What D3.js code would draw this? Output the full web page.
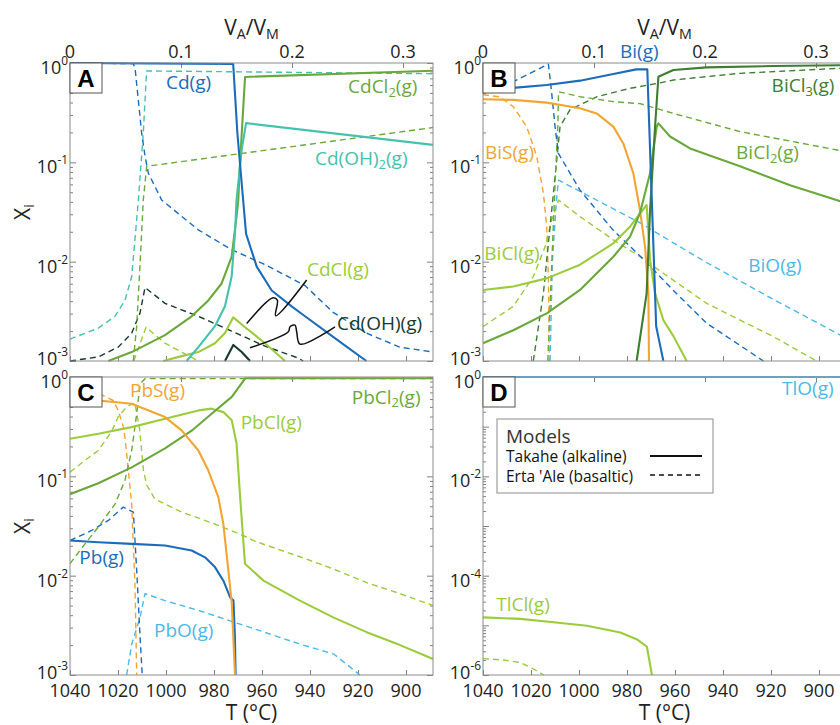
<!DOCTYPE html>
<html>
<head>
<meta charset="utf-8">
<script src="https://cdn.jsdelivr.net/npm/d3@7"></script>
<style>
  body { margin: 0; background: #fff; }
  svg { display: block; font-family: 'Open Sans', 'Noto Sans', sans-serif; }
</style>
</head>
<body>
<svg id="chart" width="840" height="725"></svg>
<script>
// ---- data: [x, mole fraction] ; x = V_A/V_M for A,B and T (°C) for C,D ----

// Panel A - Cd
const cdG_tak = [[0,1],[0.147,0.977],[0.1508,0.195],[0.1586,0.0191],[0.1682,0.00891],[0.1817,0.00513],[0.1997,0.00355],[0.2117,0.00282],[0.246,0.00148],[0.267,0.001]]
const cdG_ert = [[0,1],[0.057,0.985],[0.0586,0.89],[0.0646,0.195],[0.0676,0.115],[0.0706,0.0776],[0.0826,0.0417],[0.1156,0.0209],[0.1456,0.0132],[0.1757,0.00933],[0.2117,0.00575],[0.237,0.00309],[0.267,0.00191],[0.297,0.00138],[0.327,0.00123]]
const cdCl2_tak = [[0.0345,0.001],[0.0556,0.00123],[0.0856,0.00182],[0.1096,0.00282],[0.1246,0.00407],[0.1366,0.00603],[0.1456,0.0112],[0.15,0.0282],[0.1516,0.0417],[0.153,0.0912],[0.1547,0.195],[0.1577,0.724],[0.327,0.837]]
const cdCl2_ert = [[0.057,0.001],[0.06,0.00219],[0.063,0.00891],[0.066,0.0417],[0.0691,0.0912],[0.327,0.224]]
const cdOH2_tak = [[0.105,0.001],[0.1156,0.00138],[0.1306,0.00224],[0.1396,0.00355],[0.1456,0.00708],[0.1486,0.0191],[0.15,0.0417],[0.1547,0.135],[0.1586,0.248],[0.327,0.15]]
const cdOH2_ert = [[0,0.00166],[0.0255,0.00214],[0.0405,0.00282],[0.0495,0.00407],[0.0556,0.00708],[0.0616,0.0417],[0.066,0.195],[0.069,0.832],[0.327,0.78]]
const cdCl_tak = [[0.084,0.001],[0.1006,0.00112],[0.1156,0.00123],[0.1306,0.00151],[0.1396,0.00191],[0.1471,0.00275],[0.1577,0.00219],[0.1757,0.00151],[0.1937,0.001]]
const cdCl_ert = [[0.0575,0.001],[0.0685,0.00219],[0.0856,0.00151],[0.1156,0.001]]
const cdOH_tak = [[0.1396,0.001],[0.1471,0.00145],[0.1547,0.00123],[0.1622,0.001]]
const cdOH_ert = [[0,0.001],[0.0255,0.0011],[0.0435,0.00138],[0.0556,0.00191],[0.063,0.00302],[0.0676,0.0055],[0.0856,0.0038],[0.1156,0.00282],[0.1456,0.002],[0.1757,0.00141],[0.2057,0.00107],[0.21,0.001]]

// Panel B - Bi
const biG_tak = [[0,0.556],[0.0273,0.562],[0.0574,0.601],[0.0874,0.664],[0.1174,0.775],[0.138,0.863],[0.148,0.863],[0.156,0.00224],[0.158,0.00174],[0.1625,0.001]]
const biG_ert = [[0,0.537],[0.0273,0.649],[0.0589,0.977],[0.0619,0.495],[0.0649,0.229],[0.0679,0.123],[0.0874,0.0525],[0.117,0.0209],[0.144,0.0107],[0.1715,0.00513],[0.2015,0.0024],[0.2526,0.001]]
const biS_tak = [[0,0.431],[0.0273,0.425],[0.0574,0.399],[0.0874,0.35],[0.1024,0.311],[0.1174,0.229],[0.1264,0.155],[0.1354,0.0776],[0.1414,0.0331],[0.146,0.0141],[0.149,0.00479],[0.1495,0.001]]
const biS_ert = [[0,0.479],[0.015,0.457],[0.0273,0.363],[0.0393,0.229],[0.0484,0.115],[0.0544,0.049],[0.0574,0.0224],[0.0589,0.00708],[0.0598,0.001]]
const biCl3_tak = [[0.1384,0.001],[0.1474,0.00479],[0.1505,0.0331],[0.155,0.229],[0.158,0.728],[0.1715,0.851],[0.2015,0.904],[0.2615,0.933],[0.327,0.95]]
const biCl3_ert = [[0.0453,0.001],[0.0544,0.00479],[0.0604,0.0224],[0.0664,0.105],[0.0694,0.229],[0.0784,0.339],[0.1024,0.457],[0.1324,0.556],[0.1595,0.63],[0.1715,0.674],[0.2315,0.787],[0.327,0.89]]
const biCl2_tak = [[0,0.00151],[0.0273,0.00204],[0.0574,0.00302],[0.0874,0.00519],[0.1174,0.0112],[0.1324,0.0178],[0.1414,0.0309],[0.1505,0.0776],[0.1565,0.229],[0.158,0.247],[0.1685,0.182],[0.1865,0.138],[0.2315,0.0912],[0.2766,0.0589],[0.327,0.0389]]
const biCl2_ert = [[0.0584,0.001],[0.062,0.01],[0.065,0.063],[0.0675,0.251],[0.068,0.514],[0.0874,0.458],[0.1174,0.408],[0.1414,0.39],[0.1715,0.311],[0.2315,0.204],[0.327,0.128]]
const biCl_tak = [[0,0.00519],[0.0273,0.00562],[0.0574,0.00679],[0.0874,0.00933],[0.1174,0.0153],[0.1324,0.0225],[0.1474,0.0372],[0.1505,0.0105],[0.155,0.00479],[0.1625,0.00257],[0.1715,0.00178],[0.1835,0.001]]
const biCl_ert = [[0,0.00222],[0.0273,0.00355],[0.0453,0.00708],[0.0559,0.0141],[0.0619,0.0263],[0.068,0.0417],[0.0874,0.0284],[0.1174,0.0166],[0.144,0.0108],[0.1565,0.0085],[0.2015,0.0038],[0.2615,0.00176],[0.3005,0.001]]
const biO_ert = [[0.0604,0.001],[0.0625,0.01],[0.066,0.0398],[0.068,0.0661],[0.14,0.0251],[0.2,0.01],[0.26,0.00427],[0.327,0.0017]]

// Panel C - Pb
const pbCl2_tak = [[1040,0.0661],[1028.2,0.0851],[1014.3,0.123],[1000.4,0.191],[989.3,0.288],[981,0.427],[972.6,0.631],[967,0.97],[888.75,0.97]]
const pbCl2_ert = [[1040,0.0132],[1033.75,0.0209],[1028.2,0.0309],[1021.25,0.0525],[1017.1,0.0912],[1014.3,0.182],[1012.2,0.427],[1010.8,0.851],[1008.75,0.962],[888.75,0.962]]
const pbCl_tak = [[1040,0.239],[1028.2,0.268],[1014.3,0.313],[1000.4,0.38],[986.5,0.461],[981,0.48],[976.1,0.443],[972.6,0.366],[970.6,0.214],[969.2,0.0661],[967.1,0.0132],[959.4,0.00891],[944.2,0.0056],[930.3,0.0038],[916.4,0.0027],[902.5,0.002],[888.75,0.00145]]
const pbCl_ert = [[1040,0.11],[1033.75,0.145],[1028.2,0.182],[1022.6,0.285],[1019.9,0.398],[1016.4,0.5],[1013,0.55],[1011,0.3],[1009.4,0.115],[1008,0.0813],[1004.6,0.0589],[993.5,0.0437],[979.6,0.0331],[966.4,0.0245],[962.9,0.0222],[944.2,0.0155],[930.3,0.0117],[916.4,0.0085],[902.5,0.0066],[888.75,0.005]]
const pbS_tak = [[1040,0.605],[1028.2,0.58],[1014.3,0.538],[1000.4,0.395],[993.5,0.29],[986.5,0.182],[982.4,0.115],[978.2,0.0617],[976.1,0.0331],[974,0.0112],[972.6,0.00525],[971.25,0.001]]
const pbS_ert = [[1040,0.78],[1028,0.68],[1022,0.58],[1019.9,0.46],[1017.5,0.3],[1016.4,0.17],[1014.3,0.0525],[1012.9,0.0076],[1012.2,0.001]]
const pbG_tak = [[1040,0.0226],[1028.2,0.0217],[1014.3,0.0209],[1000.4,0.0201],[989.3,0.0179],[983.75,0.0153],[979.6,0.0122],[976.1,0.0089],[973.3,0.00607],[971.9,0.00562],[971.3,0.0025],[971,0.001]]
const pbG_ert = [[1040,0.0226],[1031,0.0285],[1024,0.036],[1017.8,0.049],[1013.6,0.0436],[1012.2,0.0112],[1010.8,0.0024],[1009.9,0.001]]
const pbO_ert = [[1016.4,0.001],[1014.3,0.00204],[1010.8,0.0038],[1008.75,0.0066],[1000.4,0.0056],[986.5,0.00447],[962.9,0.0029],[944,0.00204],[930,0.00162],[919.2,0.001]]

// Panel D - Tl
const tlO_tak = [[1040,1],[888.75,1]]
const tlCl_tak = [[1040,1.445e-5],[1024.4,1.35e-5],[1010.6,1.15e-5],[996.7,9.8e-6],[982.8,7.2e-6],[975.8,5.2e-6],[971.7,3.7e-6],[969.6,1e-6]]
const tlCl_ert = [[1040,2.14e-6],[1031.4,2e-6],[1024.4,1.78e-6],[1018.9,1.32e-6],[1014.7,1e-6]]

// pointer lines in panel A (data coords)
const cdClPointer = [[0.2132,0.00653],[0.1853,0.00285],[0.1868,0.0041],[0.1832,0.00433],[0.1772,0.00394],[0.1592,0.00239]]
const cdOHPointer = [[0.2387,0.00221],[0.2072,0.00148],[0.2042,0.00197],[0.2027,0.0023],[0.1982,0.00221],[0.1967,0.00197],[0.1622,0.00136]]

// axis ticks
const vTicks = [0, 0.1, 0.2, 0.3]
const tTicks = [1040, 1020, 1000, 980, 960, 940, 920, 900]
const legendRows = ['Takahe (alkaline)', "Erta 'Ale (basaltic)"]

// ---- colours ----
const BLUE = '#1b6cba'
const LBLUE = '#4fb8e6'
const TEAL = '#45c2ad'
const GREEN = '#6aa83c'
const DGREEN = '#3e7d32'
const LGREEN = '#9ccc3c'
const DARK = '#173a2c'
const ORANGE = '#f2a533'

const PW = 363, PH = 298
const V_MAX = 0.327, T_MIN = 888.75

const panels = [
  {
    key: 'A', left: 70, top: 63, xKind: 'v', yMin: 1e-3, yLabelStep: 1,
    series: [
      [cdOH_ert, DARK, true], [cdCl_ert, LGREEN, true], [cdOH2_ert, TEAL, true],
      [cdCl2_ert, GREEN, true], [cdG_ert, BLUE, true],
      [cdOH_tak, DARK, false], [cdCl_tak, LGREEN, false], [cdCl2_tak, GREEN, false],
      [cdOH2_tak, TEAL, false], [cdG_tak, BLUE, false]
    ],
    labels: [
      ['Cd(g)', 0.0865, 0.547, BLUE],
      ['CdCl_{2}(g)', 0.2505, 0.499, GREEN],
      ['Cd(OH)_{2}(g)', 0.2207, 0.094, TEAL],
      ['CdCl(g)', 0.2135, 0.0071, LGREEN],
      ['Cd(OH)(g)', 0.2405, 0.00205, DARK]
    ],
    pointers: [cdClPointer, cdOHPointer]
  },
  {
    key: 'B', left: 483, top: 63, xKind: 'v', yMin: 1e-3, yLabelStep: 1,
    series: [
      [biS_ert, ORANGE, true], [biO_ert, LBLUE, true], [biCl_ert, LGREEN, true],
      [biCl3_ert, DGREEN, true], [biCl2_ert, GREEN, true], [biG_ert, BLUE, true],
      [biS_tak, ORANGE, false], [biCl_tak, LGREEN, false], [biCl2_tak, GREEN, false],
      [biCl3_tak, DGREEN, false], [biG_tak, BLUE, false]
    ],
    labels: [
      ['Bi(g)', 0.1234, 1.12, BLUE],
      ['BiCl_{3}(g)', 0.26, 0.51, DGREEN],
      ['BiS(g)', 0.0018, 0.107, ORANGE],
      ['BiCl_{2}(g)', 0.228, 0.107, GREEN],
      ['BiCl(g)', 0.0012, 0.0104, LGREEN],
      ['BiO(g)', 0.239, 0.0079, LBLUE]
    ]
  },
  {
    key: 'C', left: 70, top: 377, xKind: 't', yMin: 1e-3, yLabelStep: 1,
    series: [
      [pbO_ert, LBLUE, true], [pbG_ert, BLUE, true], [pbS_ert, ORANGE, true],
      [pbCl_ert, LGREEN, true], [pbCl2_ert, GREEN, true],
      [pbCl_tak, LGREEN, false], [pbCl2_tak, GREEN, false], [pbG_tak, BLUE, false],
      [pbS_tak, ORANGE, false]
    ],
    labels: [
      ['PbS(g)', 1015, 0.63, ORANGE],
      ['PbCl_{2}(g)', 922.6, 0.54, GREEN],
      ['PbCl(g)', 968.9, 0.3, LGREEN],
      ['Pb(g)', 1036.1, 0.0131, BLUE],
      ['PbO(g)', 1005, 0.0024, LBLUE]
    ]
  },
  {
    key: 'D', left: 483, top: 377, xKind: 't', yMin: 1e-6, yLabelStep: 2,
    series: [
      [tlCl_ert, LGREEN, true], [tlCl_tak, LGREEN, false], [tlO_tak, LBLUE, false]
    ],
    labels: [
      ['TlO(g)', 915.4, 0.427, LBLUE],
      ['TlCl(g)', 1034.5, 1.9e-5, LGREEN]
    ]
  }
]

const svg = d3.select('#chart')

// text with _{sub} and ^{sup}
function rich(sel, str, size) {
  let offset = 0
  str.split(/(_\{[^}]*\}|\^\{[^}]*\})/).filter(Boolean).forEach(p => {
    let target = 0, txt = p, fs = size
    if (p[0] === '_') { target = size * 0.2; txt = p.slice(2, -1); fs = size * 0.68 }
    else if (p[0] === '^') { target = -size * 0.5; txt = p.slice(2, -1); fs = size * 0.66 }
    sel.append('tspan').attr('dy', target - offset).attr('font-size', fs).text(txt)
    offset = target
  })
}

panels.forEach(p => {
  const xv = d3.scaleLinear([0, V_MAX], [p.left, p.left + PW])
  const xt = d3.scaleLinear([1040, T_MIN], [p.left, p.left + PW])
  const x = p.xKind === 'v' ? xv : xt
  const y = d3.scaleLog([p.yMin, 1], [p.top + PH, p.top])

  const g = svg.append('g').attr('class', 'panel-' + p.key)

  const clipId = 'clip-' + p.key
  g.append('clipPath').attr('id', clipId)
    .append('rect').attr('x', p.left).attr('y', p.top - 1).attr('width', PW).attr('height', PH + 2)

  // ticks
  const decades = d3.range(Math.round(Math.log10(p.yMin)), 1).map(e => Math.pow(10, e))
  const minors = []
  decades.slice(0, -1).forEach(d => { for (let k = 2; k <= 9; k++) minors.push(d * k) })

  const styleAxis = a => {
    a.select('.domain').remove()
    a.selectAll('line').attr('stroke', '#808080')
    a.selectAll('text').remove()
  }
  g.append('g').attr('transform', `translate(${p.left},0)`)
    .call(d3.axisLeft(y).tickValues(decades).tickSize(-6).tickSizeOuter(0)).call(styleAxis)
  g.append('g').attr('transform', `translate(${p.left},0)`)
    .call(d3.axisLeft(y).tickValues(minors).tickSize(-3).tickSizeOuter(0)).call(styleAxis)
  g.append('g').attr('transform', `translate(${p.left + PW},0)`)
    .call(d3.axisRight(y).tickValues(decades).tickSize(-6).tickSizeOuter(0)).call(styleAxis)
  g.append('g').attr('transform', `translate(${p.left + PW},0)`)
    .call(d3.axisRight(y).tickValues(minors).tickSize(-3).tickSizeOuter(0)).call(styleAxis)
  g.append('g').attr('transform', `translate(0,${p.top})`)
    .call(d3.axisTop(xv).tickValues(vTicks).tickSize(-5).tickSizeOuter(0)).call(styleAxis)
  g.append('g').attr('transform', `translate(0,${p.top + PH})`)
    .call(d3.axisBottom(xt).tickValues(tTicks).tickSize(-5).tickSizeOuter(0)).call(styleAxis)

  // series
  const line = d3.line().x(d => x(d[0])).y(d => y(d[1]))
  g.append('g').attr('clip-path', `url(#${clipId})`)
    .selectAll('path')
    .data(p.series)
    .join('path')
    .attr('d', d => line(d[0]))
    .attr('fill', 'none')
    .attr('stroke', d => d[1])
    .attr('stroke-width', d => d[2] ? 1.4 : 2.1)
    .attr('stroke-dasharray', d => d[2] ? '6,4' : null)
    .attr('stroke-linejoin', 'round')

  // pointer lines
  if (p.pointers) {
    const curve = d3.line().x(d => x(d[0])).y(d => y(d[1])).curve(d3.curveCatmullRom.alpha(0.5))
    g.append('g').selectAll('path').data(p.pointers).join('path')
      .attr('d', curve).attr('fill', 'none').attr('stroke', '#111').attr('stroke-width', 1.5)
  }

  // frame
  g.append('rect').attr('x', p.left).attr('y', p.top).attr('width', PW).attr('height', PH)
    .attr('fill', 'none').attr('stroke', '#8c8c8c').attr('stroke-width', 1)

  // species labels
  p.labels.forEach(l => {
    const t = g.append('text').attr('x', x(l[1])).attr('y', y(l[2]))
      .attr('fill', l[3]).attr('font-size', 19)
    rich(t, l[0], 19)
  })

  // y tick labels
  decades.forEach((d, i) => {
    const e = Math.round(Math.log10(d))
    if (e % p.yLabelStep !== 0) return
    const off = i === 0 ? 4 : 11
    const t = g.append('text').attr('x', p.left - 2).attr('y', y(d) + off)
      .attr('text-anchor', 'end').attr('fill', '#222').attr('font-size', 18)
    rich(t, `10^{${e}}`, 18)
  })

  // top/bottom tick labels
  if (p.top < 200) {
    g.selectAll('.vlab').data(vTicks).join('text')
      .attr('x', d => xv(d)).attr('y', p.top - 5)
      .attr('text-anchor', 'middle').attr('fill', '#222').attr('font-size', 18)
      .text(d => d === 0 ? '0' : d3.format('.1f')(d))
    const tt = g.append('text').attr('x', p.left + PW / 2).attr('y', 35)
      .attr('text-anchor', 'middle').attr('fill', '#222').attr('font-size', 21)
    rich(tt, 'V_{A}/V_{M}', 21)
  } else {
    g.selectAll('.tlab').data(tTicks).join('text')
      .attr('x', d => xt(d)).attr('y', p.top + PH + 22)
      .attr('text-anchor', 'middle').attr('fill', '#222').attr('font-size', 18)
      .text(d => d)
    g.append('text').attr('x', p.left + PW / 2).attr('y', 720)
      .attr('text-anchor', 'middle').attr('fill', '#222').attr('font-size', 21)
      .text('T (°C)')
  }

  if (p.left < 200) {
    const yt = g.append('text')
      .attr('transform', `translate(30,${p.top + PH / 2}) rotate(-90)`)
      .attr('text-anchor', 'middle').attr('fill', '#222').attr('font-size', 21)
    rich(yt, 'X_{i}', 21)
  }

  // panel letter
  g.append('rect').attr('x', p.left).attr('y', p.top).attr('width', 32).attr('height', 30)
    .attr('fill', '#fff').attr('stroke', '#555').attr('stroke-width', 1)
  g.append('text').attr('x', p.left + 16).attr('y', p.top + 24)
    .attr('text-anchor', 'middle').attr('font-family', "'Liberation Sans', Arial, sans-serif")
    .attr('font-weight', 'bold').attr('font-size', 24).attr('fill', '#000').text(p.key)

  // legend in panel D
  if (p.key === 'D') {
    const lg = g.append('g').attr('transform', `translate(${p.left + 14},${p.top + 42})`)
    lg.append('rect').attr('width', 216).attr('height', 74)
      .attr('fill', '#fff').attr('stroke', '#8c8c8c')
    lg.append('text').attr('x', 9).attr('y', 24).attr('font-size', 19).attr('fill', '#333').text('Models')
    legendRows.forEach((r, i) => {
      lg.append('text').attr('x', 9).attr('y', 43 + i * 20).attr('font-size', 15.5).attr('fill', '#111').text(r)
      lg.append('line').attr('x1', 153).attr('x2', 205).attr('y1', 37 + i * 19).attr('y2', 37 + i * 19)
        .attr('stroke', '#111').attr('stroke-width', i ? 1.3 : 2)
        .attr('stroke-dasharray', i ? '5,4' : null)
    })
  }
})
</script>
</body>
</html>
